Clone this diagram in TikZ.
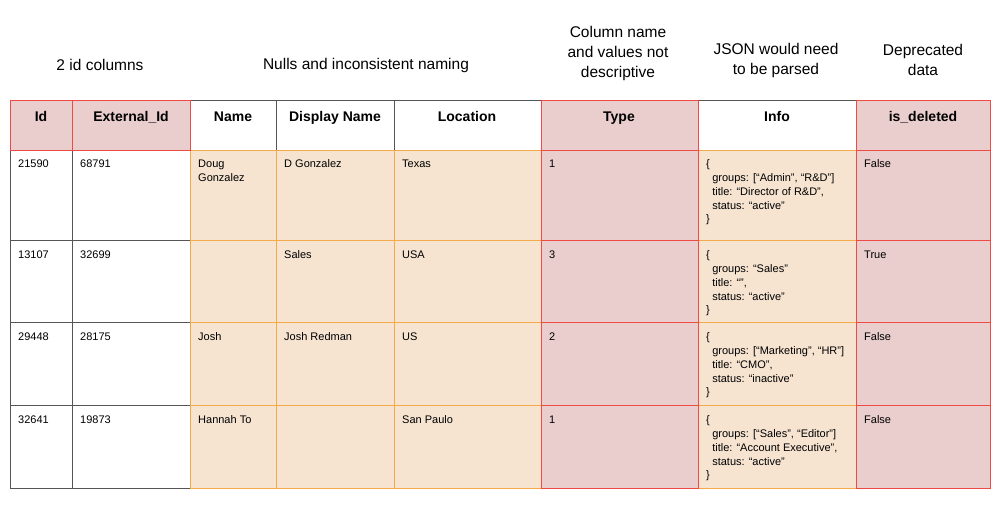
\documentclass[tikz,border=0pt]{standalone}
\usepackage{fontspec}
\setmainfont{Liberation Sans}
\definecolor{pinkf}{HTML}{EACDCD}
\definecolor{orf}{HTML}{F6E4D1}
\definecolor{redb}{HTML}{EE4B46}
\definecolor{orb}{HTML}{F5AA4A}
\definecolor{gridc}{HTML}{555555}
\newcommand{\topst}{\rule{0pt}{10.5pt}}
\begin{document}
\begin{tikzpicture}[x=1pt,y=-1pt,
  lab/.style={align=center,font=\fontsize{15.5}{20}\selectfont,inner sep=0pt},
  hd/.style={anchor=base,font=\fontsize{14}{16}\selectfont\bfseries,inner sep=0pt},
  bd/.style={anchor=north west,align=left,font=\fontsize{11}{13.8}\selectfont,inner sep=0pt}]
\useasboundingbox (0,0) rectangle (1000,513);
% fills
\fill[pinkf] (10,100) rectangle (190,150);
\fill[pinkf] (541,100) rectangle (698,488);
\fill[pinkf] (856,100) rectangle (990,488);
\fill[orf] (190,150) rectangle (541,488);
\fill[orf] (698,150) rectangle (856,488);
% gray grid
\draw[gridc,line width=0.8pt] (10,100) rectangle (990,488);
\foreach \x in {72,190,276,394,541,698,856} \draw[gridc,line width=0.8pt] (\x,100) -- (\x,488);
\foreach \y in {150,240,322,405} \draw[gridc,line width=0.8pt] (10,\y) -- (990,\y);
% orange borders
\foreach \a/\b in {190/276,276/394,394/541,698/856}
  \foreach \c/\d in {150/240,240/322,322/405,405/488}
    \draw[orb,line width=0.8pt] (\a,\c) rectangle (\b,\d);
% red borders
\draw[redb,line width=0.8pt] (10,100) rectangle (72,150) (72,100) rectangle (190,150);
\foreach \a/\b in {541/698,856/990}
  \foreach \c/\d in {100/150,150/240,240/322,322/405,405/488}
    \draw[redb,line width=0.8pt] (\a,\c) rectangle (\b,\d);
% top labels
\node[lab] (l1) at (100,65) {2 id columns};
\node[lab] (l2) at (366,65) {Nulls and inconsistent naming};
\node[lab] (l3) at (618,53) {Column name\\and values not\\descriptive};
\node[lab] (l4) at (776,60) {JSON would need\\to be parsed};
\node[lab] (l5) at (923,60) {Deprecated\\data};
% headers
\node[hd] (h1) at (41,122) {Id};
\node[hd] (h2) at (131,122) {External\_Id};
\node[hd] (h3) at (233,122) {Name};
\node[hd] (h4) at (335,122) {Display Name};
\node[hd] (h5) at (467,122) {Location};
\node[hd] (h6) at (619,122) {Type};
\node[hd] (h7) at (777,122) {Info};
\node[hd] (h8) at (923,122) {is\_deleted};
% body rows
\foreach \y/\i/\e/\n/\dn/\lo/\t/\dl [count=\r] in {
  157/21590/68791/{Doug\\Gonzalez}/D Gonzalez/Texas/1/False,
  248/13107/32699/{}/Sales/USA/3/True,
  330/29448/28175/Josh/Josh Redman/US/2/False,
  413/32641/19873/Hannah To/{}/San Paulo/1/False}{
  \node[bd] (id\r) at (18,\y) {\topst\i};
  \node[bd] (ex\r) at (80,\y) {\topst\e};
  \node[bd] (nm\r) at (198,\y) {\topst\n};
  \node[bd] (dn\r) at (284,\y) {\topst\dn};
  \node[bd] (lo\r) at (402,\y) {\topst\lo};
  \node[bd] (ty\r) at (549,\y) {\topst\t};
  \node[bd] (dl\r) at (864,\y) {\topst\dl};
}
\node[bd] (in1) at (706,157) {\topst\{\\\ \ groups: [“Admin”, “R\&D”]\\\ \ title: “Director of R\&D”,\\\ \ status: “active”\\\}};
\node[bd] (in2) at (706,248) {\topst\{\\\ \ groups: “Sales”\\\ \ title: “”,\\\ \ status: “active”\\\}};
\node[bd] (in3) at (706,330) {\topst\{\\\ \ groups: [“Marketing”, “HR”]\\\ \ title: “CMO”,\\\ \ status: “inactive”\\\}};
\node[bd] (in4) at (706,413) {\topst\{\\\ \ groups: [“Sales”, “Editor”]\\\ \ title: “Account Executive”,\\\ \ status: “active”\\\}};
\end{tikzpicture}
\end{document}
